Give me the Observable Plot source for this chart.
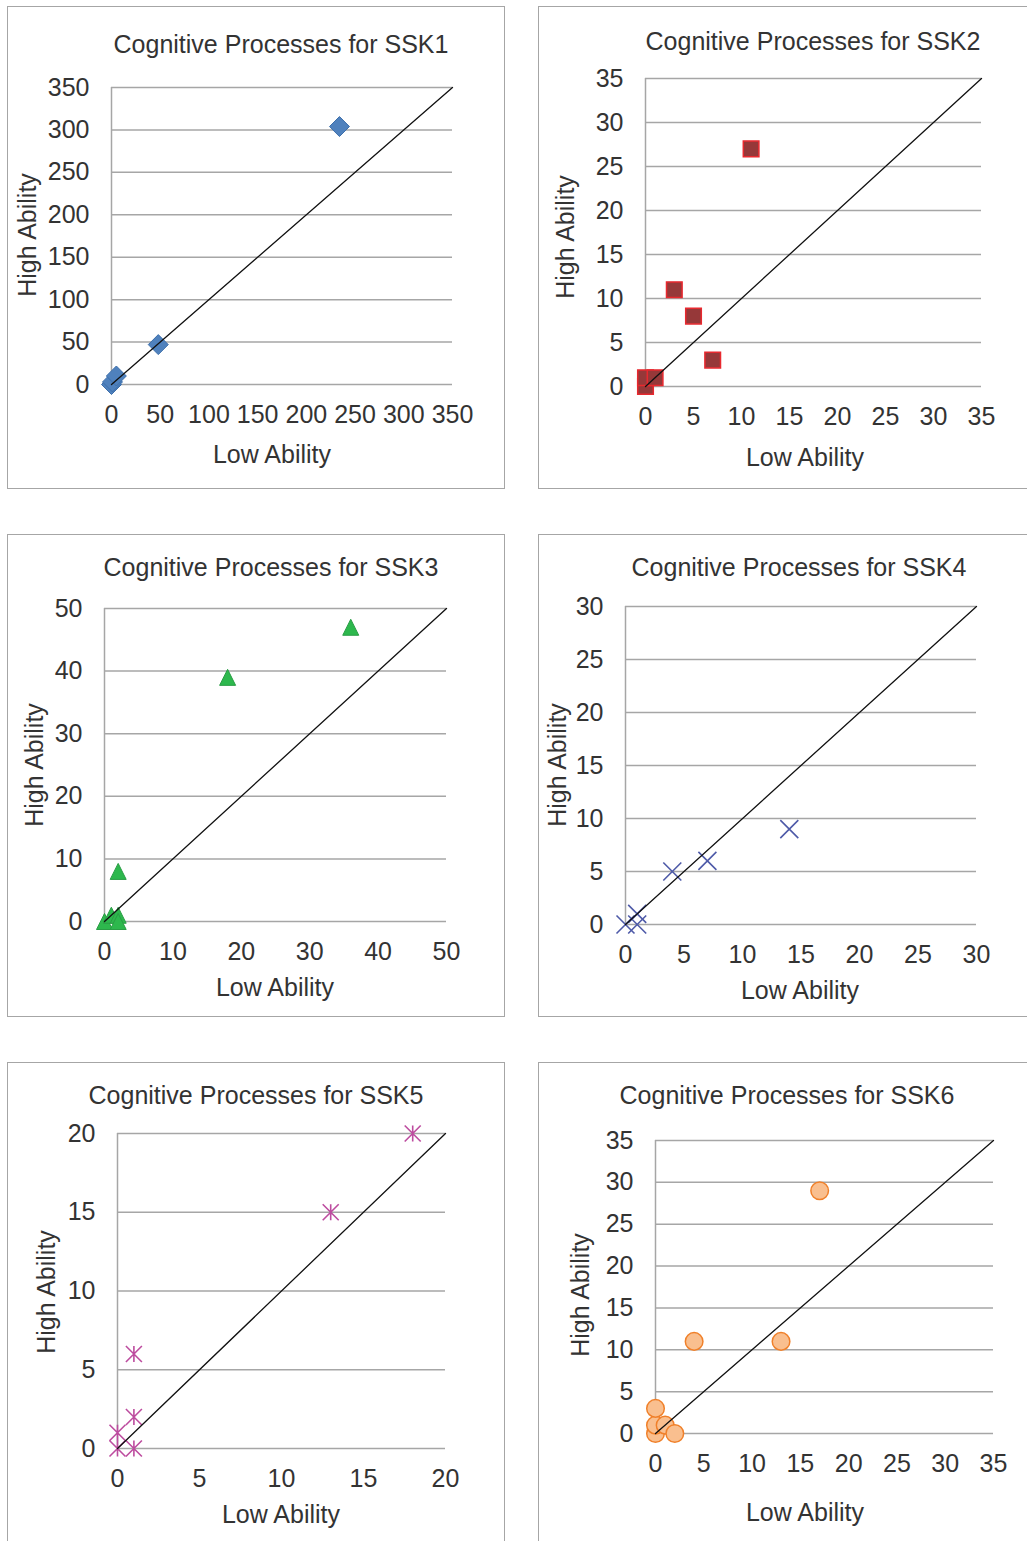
<!DOCTYPE html>
<html><head><meta charset="utf-8">
<script src="https://cdn.jsdelivr.net/npm/d3@7"></script>
<script src="https://cdn.jsdelivr.net/npm/@observablehq/plot@0.6"></script>
<style>
body{margin:0;background:#fff;}
#page{position:relative;width:1027px;height:1541px;overflow:hidden;background:#fff;font-family:"Liberation Sans",Arial,sans-serif;color:#333;}
.box{position:absolute;border:1.5px solid #a6a6a6;box-sizing:border-box;}
.lbl{position:absolute;font-size:25px;white-space:nowrap;transform:translate(-50%,-50%);line-height:1;}
.rot{transform:translate(-50%,-50%) rotate(-90deg);}
</style></head><body><div id="page"></div>
<script>
// ---- data ----
const titles = ["Cognitive Processes for SSK1","Cognitive Processes for SSK2","Cognitive Processes for SSK3",
                "Cognitive Processes for SSK4","Cognitive Processes for SSK5","Cognitive Processes for SSK6"];
const xLabel = "Low Ability";
const yLabel = "High Ability";

const ssk1Low  = [0, 1, 5, 48, 234];
const ssk1High = [0, 3, 10, 47, 304];
const ssk2Low  = [0, 0, 1, 3, 5, 7, 11];
const ssk2High = [0, 1, 1, 11, 8, 3, 27];
const ssk3Low  = [0, 1, 2, 2, 2, 18, 36];
const ssk3High = [0, 1, 1, 0, 8, 39, 47];
const ssk4Low  = [0, 1, 1, 4, 7, 14];
const ssk4High = [0, 1, 0, 5, 6, 9];
const ssk5Low  = [0, 0, 1, 1, 1, 13, 18];
const ssk5High = [0, 1, 0, 2, 6, 15, 20];
const ssk6Low  = [0, 0, 0, 1, 2, 4, 13, 17];
const ssk6High = [0, 1, 3, 1, 0, 11, 11, 29];

const ticks1 = [0, 50, 100, 150, 200, 250, 300, 350];
const ticks2 = [0, 5, 10, 15, 20, 25, 30, 35];
const ticks3 = [0, 10, 20, 30, 40, 50];
const ticks4 = [0, 5, 10, 15, 20, 25, 30];
const ticks5 = [0, 5, 10, 15, 20];
const ticks6 = [0, 5, 10, 15, 20, 25, 30, 35];

// ---- symbols ----
const sym = {
  diamond: {draw(c, s){const h=Math.sqrt(s/Math.PI); c.moveTo(0,-h); c.lineTo(h,0); c.lineTo(0,h); c.lineTo(-h,0); c.closePath();}},
  square: {draw(c, s){const h=Math.sqrt(s/Math.PI); c.rect(-h,-h,2*h,2*h);}},
  triangle: {draw(c, s){const h=Math.sqrt(s/Math.PI); c.moveTo(0,-h); c.lineTo(h,h); c.lineTo(-h,h); c.closePath();}},
  times: {draw(c, s){const h=Math.sqrt(s/Math.PI); c.moveTo(-h,-h); c.lineTo(h,h); c.moveTo(-h,h); c.lineTo(h,-h);}},
  star: {draw(c, s){const h=Math.sqrt(s/Math.PI); c.moveTo(-h,-h); c.lineTo(h,h); c.moveTo(-h,h); c.lineTo(h,-h); c.moveTo(0,-h); c.lineTo(0,h);}},
  circle: {draw(c, s){const h=Math.sqrt(s/Math.PI); c.moveTo(h,0); c.arc(0,0,h,0,2*Math.PI);}}
};

const panels = [
  {low: ssk1Low, high: ssk1High, ticks: ticks1, title: titles[0],
   box: [7, 6, 505, 489], area: [111, 87, 452, 384],
   tPos: [281, 44], yPos: [27, 235], xPos: [272, 454],
   mk: {symbol: sym.diamond, r: 10, fill: "#4f81bd", stroke: "#3d6fab", strokeWidth: 1}},
  {low: ssk2Low, high: ssk2High, ticks: ticks2, title: titles[1],
   box: [538, 6, 1045, 489], area: [645, 78, 981, 386],
   tPos: [813, 41], yPos: [565, 237], xPos: [805, 457],
   mk: {symbol: sym.square, r: 7.8, fill: "#963839", stroke: "#e8292f", strokeWidth: 1.5}},
  {low: ssk3Low, high: ssk3High, ticks: ticks3, title: titles[2],
   box: [7, 534, 505, 1017], area: [104, 608, 446, 921],
   tPos: [271, 567], yPos: [34, 765], xPos: [275, 987],
   mk: {symbol: sym.triangle, r: 8, fill: "#2db84d", stroke: "#2a9d45", strokeWidth: 1}},
  {low: ssk4Low, high: ssk4High, ticks: ticks4, title: titles[3],
   box: [538, 534, 1045, 1017], area: [625, 606, 976, 924],
   tPos: [799, 567], yPos: [557, 765], xPos: [800, 990],
   mk: {symbol: sym.times, r: 9, fill: "none", stroke: "#4e5aa8", strokeWidth: 1.6}},
  {low: ssk5Low, high: ssk5High, ticks: ticks5, title: titles[4],
   box: [7, 1062, 505, 1560], area: [117, 1133, 445, 1448],
   tPos: [256, 1095], yPos: [46, 1292], xPos: [281, 1514],
   mk: {symbol: sym.star, r: 8, fill: "none", stroke: "#bd4c9f", strokeWidth: 1.6}},
  {low: ssk6Low, high: ssk6High, ticks: ticks6, title: titles[5],
   box: [538, 1062, 1045, 1560], area: [655, 1140, 993, 1433],
   tPos: [787, 1095], yPos: [580, 1295], xPos: [805, 1512],
   mk: {symbol: sym.circle, r: 8.8, fill: "#f9bf8f", stroke: "#f0802a", strokeWidth: 1.5}}
];

const page = document.getElementById("page");
function addLabel(text, pos, rot){
  const d = document.createElement("div");
  d.className = "lbl" + (rot ? " rot" : "");
  d.textContent = text;
  d.style.left = pos[0] + "px"; d.style.top = pos[1] + "px";
  page.appendChild(d);
}

for (const p of panels) {
  const b = document.createElement("div");
  b.className = "box";
  b.style.left = p.box[0] + "px"; b.style.top = p.box[1] + "px";
  b.style.width = (p.box[2] - p.box[0]) + "px"; b.style.height = (p.box[3] - p.box[1]) + "px";
  page.appendChild(b);

  const max = p.ticks[p.ticks.length - 1];
  const data = p.low.map((x, i) => ({x, y: p.high[i]}));
  const diag = [{x: p.ticks[0], y: p.ticks[0]}, {x: max, y: max}];
  const mL = 100, mT = 40, mR = 50, mB = 70;
  const [x0, y0, x1, y1] = p.area;
  const svg = Plot.plot({
    width: x1 - x0 + mL + mR, height: y1 - y0 + mT + mB,
    marginLeft: mL, marginTop: mT, marginRight: mR, marginBottom: mB,
    x: {domain: [0, max]}, y: {domain: [0, max]},
    style: {background: "transparent", overflow: "visible", fontSize: "25px",
            fontFamily: "'Liberation Sans', Arial, sans-serif", color: "#333"},
    marks: [
      Plot.gridY({ticks: p.ticks, stroke: "#a6a6a6", strokeOpacity: 1, strokeWidth: 1.5}),
      Plot.ruleX([0], {stroke: "#a6a6a6", strokeWidth: 1.5}),
      Plot.axisY({ticks: p.ticks, tickSize: 0, tickPadding: 22, label: null}),
      Plot.axisX({ticks: p.ticks, tickSize: 0, tickPadding: 21, label: null}),
      Plot.dot(data, {x: "x", y: "y", ...p.mk}),
      Plot.line(diag, {x: "x", y: "y", stroke: "#111", strokeWidth: 1.3})
    ]
  });
  svg.style.position = "absolute";
  svg.style.left = (x0 - mL) + "px";
  svg.style.top = (y0 - mT) + "px";
  page.appendChild(svg);

  addLabel(p.title, p.tPos, false);
  addLabel(yLabel, p.yPos, true);
  addLabel(xLabel, p.xPos, false);
}
</script></body></html>
